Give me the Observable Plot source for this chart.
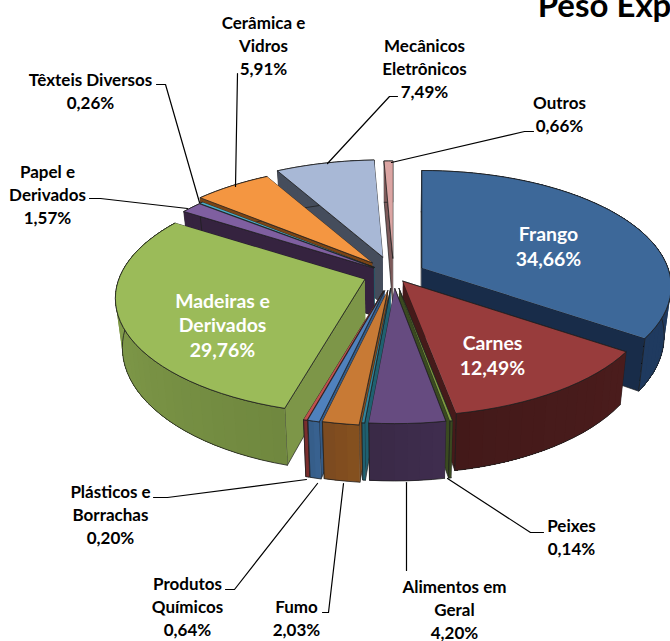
<!DOCTYPE html>
<html><head><meta charset="utf-8">
<script src="https://cdn.jsdelivr.net/npm/d3@7"></script>
<script src="https://cdn.jsdelivr.net/npm/@observablehq/plot@0.6"></script>
<style>html,body{margin:0;padding:0;background:#fff;overflow:hidden}svg{display:block}</style>
</head><body><div id="chart"></div>
<script>
const categories = ["Frango","Carnes","Peixes","Alimentos em Geral","","Fumo","Produtos Químicos","Plásticos e Borrachas","Madeiras e Derivados","Papel e Derivados","Têxteis Diversos","Cerâmica e Vidros","Mecânicos Eletrônicos","Outros"];
const values = [34.66,12.49,0.14,4.20,0.15,2.03,0.64,0.20,29.76,1.57,0.26,5.91,7.49,0.66];
const explode = [.13,.07,.125,.125,.125,.145,.15,.15,.125,.1,.1,.135,.16,.145];
const topColors = ["#3d6899","#983c3c","#7f9a3f","#664b80","#31859c","#c87a35","#4f81bd","#c0504d","#9bbb59","#7f5fa0","#4bacc6","#f49641","#a8b8d6","#dba5a3"];
const wallColors = ["#182c49","#451a1a","#3a4a20","#3a2a48","#1f6070","#7e4b20","#345a85","#7a2f2e","#7d9648","#35233f","#205a6a","#7a4416","#454d5c","#7d5a5a"];
const rimStart = ["#1f3a5f","#4a1c1c","#3a4a20","#3f2d4e","#1f6070","#84501f","#38618f","#7a2f2e","#70883f","#35233f","#205a6a","#7a4416","#454d5c","#7d5a5a"];
const rimEnd = ["#1f3a5f","#431919","#3a4a20","#392945","#1f6070","#7a4820","#345a85","#7a2f2e","#8aa650","#35233f","#205a6a","#7a4416","#454d5c","#7d5a5a"];
const paintOrder = [12,13,11,10,9,8,0,1,7,6,5,4,2,3];

const view = {cx:393, cy:274, rx:246, ry:113, persp:.163, depth:48, shrink:.025};
const slices = d3.pie().sort(null)(values);

function rim(i, a, h) {
  const s = slices[i], m = (s.startAngle + s.endAngle) / 2;
  const ax = view.cx + explode[i]*view.rx*Math.sin(m), ay = view.cy - explode[i]*view.ry*Math.cos(m);
  if (a === null) return [view.cx + (ax-view.cx)*(1-view.shrink*h), ay + view.depth*h];
  const u = Math.sin(a), v = -Math.cos(a), k = 1/(1 - view.persp*v);
  const X = ax + view.rx*u*k, Y = ay + view.ry*v*k + view.depth*k*h;
  return [view.cx + (X-view.cx)*(1-view.shrink*h), Y];
}
const rows = [];
let pid = 0;
function poly(pts, fill, stroke, sw) {
  const id = pid++;
  pts.forEach(p => rows.push({id, x:p[0], y:p[1], fill, stroke, sw}));
}
for (const i of paintOrder) {
  const s = slices[i], n = Math.max(2, Math.ceil((s.endAngle-s.startAngle)/0.05));
  const A = d3.range(n+1).map(j => s.startAngle + (s.endAngle-s.startAngle)*j/n);
  const edge = "#20201f";
  const cuts = [s.startAngle, s.endAngle].sort((a,b) => Math.cos(b) - Math.cos(a));
  for (const c of cuts) poly([rim(i,null,0), rim(i,c,0), rim(i,c,1), rim(i,null,1)], wallColors[i], edge, .7);
  const col = d3.interpolateRgb(rimStart[i], rimEnd[i]);
  for (let j = 0; j < n; j++) {
    const tail = A.slice(j);
    poly([...tail.map(a => rim(i,a,0)), ...tail.slice().reverse().map(a => rim(i,a,1))], col(j/n), "none", 0);
  }
  poly([...A.map(a => rim(i,a,0)), ...A.slice().reverse().map(a => rim(i,a,1))], "none", edge, .8);
  poly([rim(i,null,0), ...A.map(a => rim(i,a,0))], topColors[i], edge, .8);
}

const labelText = ["Frango\n34,66%","Carnes\n12,49%","Madeiras e\nDerivados\n29,76%"];
const labelX = [548,492,222], labelY = [245,354,324];
const calloutText = ["Peixes\n0,14%","Alimentos em\nGeral\n4,20%","Fumo\n2,03%","Produtos\nQuímicos\n0,64%","Plásticos e\nBorrachas\n0,20%","Papel e\nDerivados\n1,57%","Têxteis Diversos\n0,26%","Cerâmica e\nVidros\n5,91%","Mecânicos\nEletrônicos\n7,49%","Outros\n0,66%"];
const calloutX = [571,454,296,187,110,47,90,263,424,559];
const calloutY = [536,608,617,605,513,193,90,44,67,113];
const leaders = [
  [[543,532],[530,532],[447,478]],
  [[406,570],[406,482]],
  [[322,612],[328,612],[343,483]],
  [[225,589],[234,589],[317,483]],
  [[153,497],[167,497],[306,479]],
  [[89,198],[100,198],[187,208]],
  [[156,84],[165,84],[199,202]],
  [[237,73],[235,186]],
  [[397,96],[389,96],[327,163]],
  [[533,131],[524,131],[391,162]]
];
const leaderRows = leaders.flatMap((l,id) => l.map(p => ({id, x:p[0], y:p[1]})));
const titleText = ["Peso Exp"];

const font = "Lato, 'Open Sans', sans-serif";
const plot = Plot.plot({
  width:670, height:641, margin:0,
  x:{domain:[0,670], range:[0,670], axis:null},
  y:{domain:[0,641], range:[0,641], axis:null},
  color:{type:"identity"},
  style:{background:"#fff", fontFamily:font},
  marks:[
    Plot.line(rows, {x:"x", y:"y", z:"id", fill:"fill", stroke:"stroke", strokeWidth:"sw", curve:"linear", strokeLinejoin:"round"}),
    Plot.line(leaderRows, {x:"x", y:"y", z:"id", stroke:"#000", strokeWidth:1.2, curve:"linear"}),
    Plot.text(calloutText, {x:(d,i)=>calloutX[i], y:(d,i)=>calloutY[i], text:d=>d, fontSize:17, fontWeight:700, fill:"#000", lineHeight:1.34, fontFamily:font}),
    Plot.text(labelText, {x:(d,i)=>labelX[i], y:(d,i)=>labelY[i], text:d=>d, fontSize:19.4, fontWeight:700, fill:"#fff", lineHeight:1.27, fontFamily:font}),
    Plot.text(titleText, {x:[604], y:[6], text:d=>d, fontSize:33, fontWeight:700, fill:"#000", fontFamily:font})
  ]
});
document.getElementById("chart").append(plot);
</script></body></html>
